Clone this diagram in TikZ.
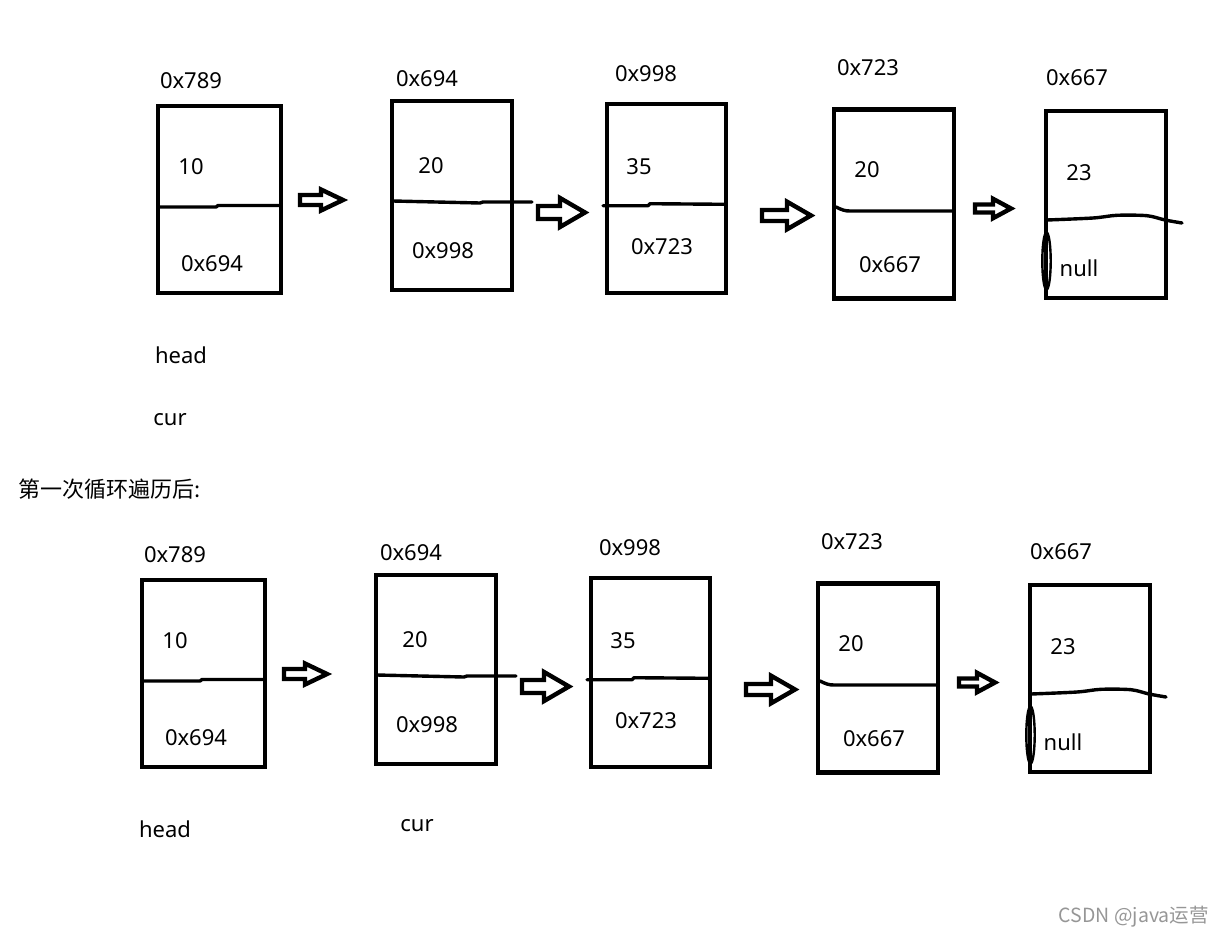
\documentclass[tikz,border=0pt]{standalone}
\usepackage{fontspec}
\setmainfont{Noto Sans}
\newfontfamily\cjk{Noto Sans CJK SC}
\definecolor{wm}{RGB}{150,150,150}
\tikzset{
  box/.style={draw, line width=4.6pt, inner sep=0pt},
  lbl/.style={inner sep=0pt, font=\fontsize{22}{24}\selectfont},
  divider/.style={line width=3.4pt, line cap=round, line join=round},
  harrow/.style={draw, line width=4.4pt, line join=miter},
}
% hollow block arrow: x0, xhead, xtip, yc, shaft half, head half
\newcommand\hollowarrow[6]{%
  \draw[harrow] (#1,#4-#5) -- (#2,#4-#5) -- (#2,#4-#6) -- (#3,#4) -- (#2,#4+#6) -- (#2,#4+#5) -- (#1,#4+#5) -- cycle;}
\newcommand\listrow[1]{%
  \node[box, minimum width=123pt, minimum height=187pt] (#1b1) at (219.5,199.5) {};
  \node[box, minimum width=120pt, minimum height=189pt] (#1b2) at (452,195.5) {};
  \node[box, minimum width=119pt, minimum height=189pt] (#1b3) at (666.5,198.3) {};
  \node[box, minimum width=120pt, minimum height=189pt] (#1b4) at (893.8,203.7) {};
  \node[box, minimum width=120pt, minimum height=187pt] (#1b5) at (1106,204.5) {};
  % dividers
  \draw[divider] (159,207) -- (216,207) -- (218,205.5) -- (281,205.5);
  \draw[divider] (393,201) -- (480,203) -- (483,202) -- (532,202);
  \draw[divider] (603,205.7) -- (648,205.7) -- (650,203.7) -- (725,204.3);
  \draw[divider] (836,207) .. controls (842,210) and (845,211) .. (850,211) -- (953,211);
  \draw[divider] plot[smooth] coordinates {(1047,220) (1093,218) (1117,215.3) (1147,215.7) (1165,220) (1182,223)};
  \draw[line width=2.4pt] (1046.5,261) ellipse (4.2 and 28.5);
  % arrows
  \hollowarrow{300}{321}{343}{200}{5}{10.5}
  \hollowarrow{538}{560}{585}{212.5}{6.5}{14.5}
  \hollowarrow{762}{787}{811}{215.5}{5.5}{13.8}
  \hollowarrow{975}{993}{1011}{208.5}{4}{9.7}
  % addresses
  \node[lbl] (#1a1) at (191,81) {0x789};
  \node[lbl] (#1a2) at (427,79) {0x694};
  \node[lbl] (#1a3) at (646,74) {0x998};
  \node[lbl] (#1a4) at (868,68) {0x723};
  \node[lbl] (#1a5) at (1077,78) {0x667};
  % data
  \node[lbl] (#1d1) at (191,166.5) {10};
  \node[lbl] (#1d2) at (431,166) {20};
  \node[lbl] (#1d3) at (639,167) {35};
  \node[lbl] (#1d4) at (867,170) {20};
  \node[lbl] (#1d5) at (1079,173) {23};
  % next
  \node[lbl] (#1n1) at (212,264) {0x694};
  \node[lbl] (#1n2) at (443,251) {0x998};
  \node[lbl] (#1n3) at (662,246.5) {0x723};
  \node[lbl] (#1n4) at (890,265) {0x667};
  \node[lbl] (#1n5) at (1079,268) {null};
  \node[lbl] (#1head) at (181,355) {head};
}
\begin{document}
\begin{tikzpicture}[x=1pt, y=-1pt]
\useasboundingbox (0,0) rectangle (1225,937);
\begin{scope}
  \listrow{r}
  \node[lbl] (rcur) at (170,420) {cur};
\end{scope}
\node[lbl, anchor=west, font=\fontsize{22}{24}\selectfont\cjk] (title) at (18,489) {第一次循环遍历后:};
\begin{scope}[shift={(-16,474)}]
  \listrow{s}
  \node[lbl] (scur) at (433,352) {cur};
\end{scope}
\node[inner sep=0pt, anchor=east, text=wm, font=\fontsize{19.5}{21}\selectfont\cjk] (wmark) at (1209,917) {CSDN @java运营};
\end{tikzpicture}
\end{document}
